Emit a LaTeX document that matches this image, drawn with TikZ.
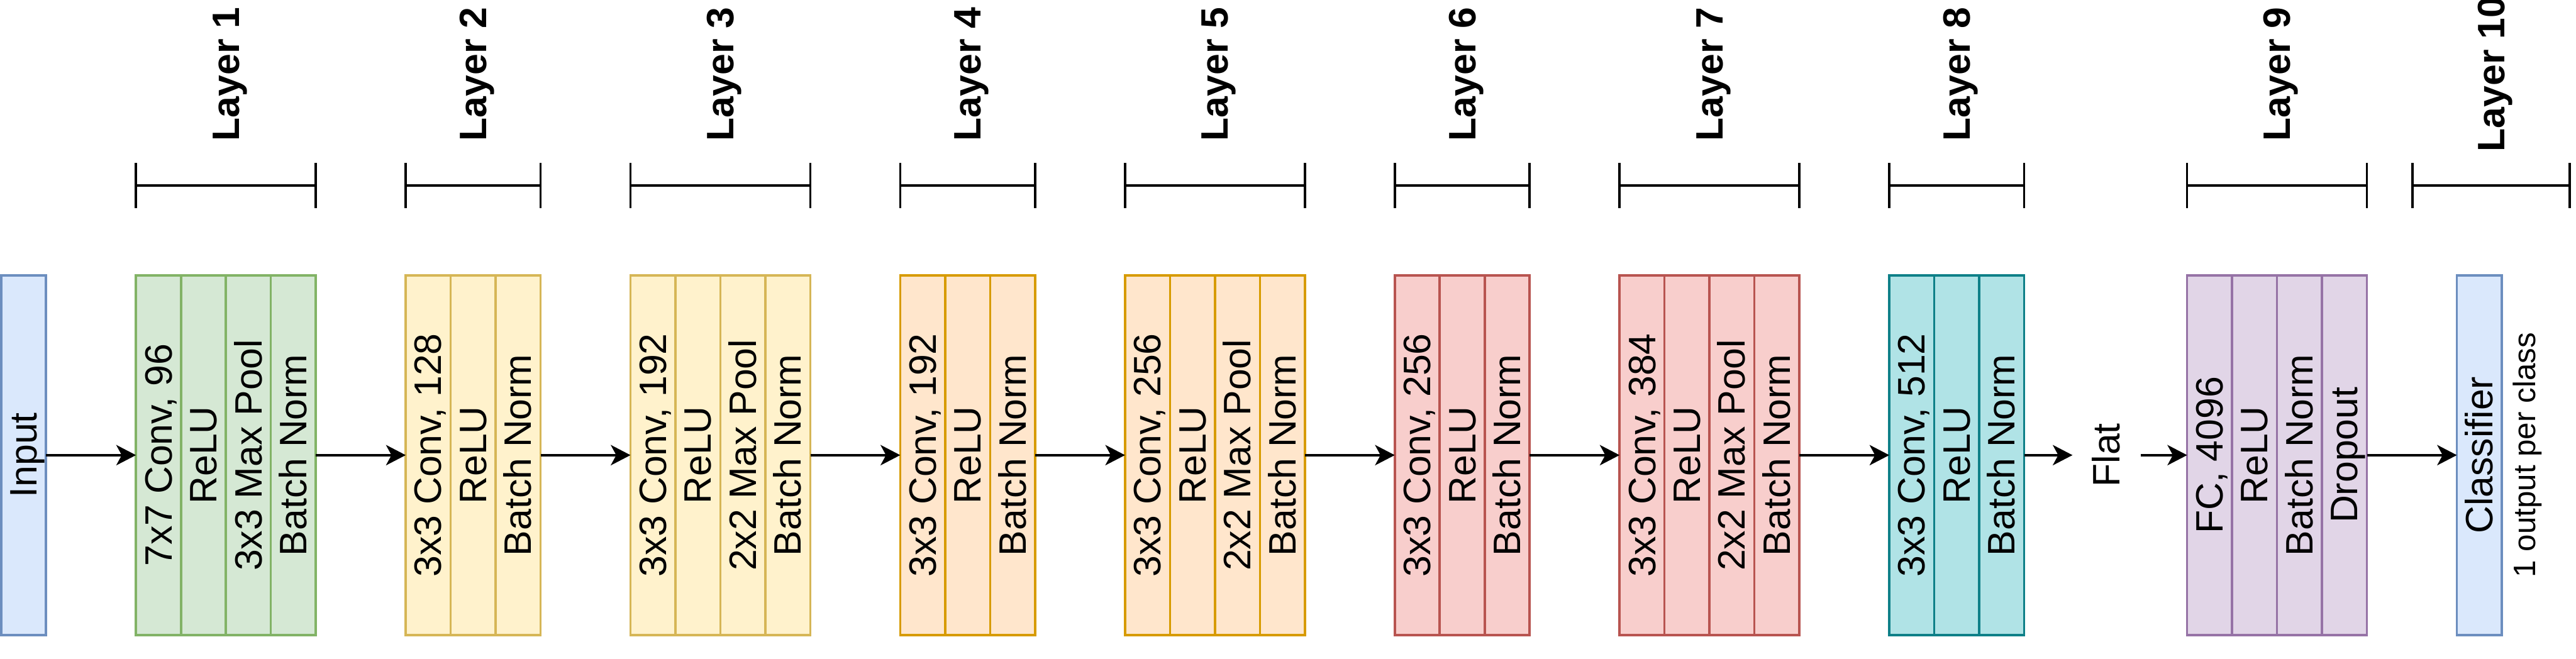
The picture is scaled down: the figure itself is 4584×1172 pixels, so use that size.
\documentclass[tikz,border=0pt]{standalone}
\usepackage{fontspec}
\setmainfont{Liberation Sans}
\usetikzlibrary{arrows.meta}
\definecolor{inF}{HTML}{DAE8FC}\definecolor{inS}{HTML}{6C8EBF}
\definecolor{gF}{HTML}{D5E8D4}\definecolor{gS}{HTML}{82B366}
\definecolor{yF}{HTML}{FFF2CC}\definecolor{yS}{HTML}{D6B656}
\definecolor{oF}{HTML}{FFE6CC}\definecolor{oS}{HTML}{D79B00}
\definecolor{rF}{HTML}{F8CECC}\definecolor{rS}{HTML}{B85450}
\definecolor{tF}{HTML}{B0E3E6}\definecolor{tS}{HTML}{0E8088}
\definecolor{pF}{HTML}{E1D5E7}\definecolor{pS}{HTML}{9673A6}
\begin{document}
\begin{tikzpicture}[x=0.25pt,y=-0.25pt,
  col/.style 2 args={draw=#2, fill=#1, line width=1pt, minimum width=20pt,
    minimum height=160pt, inner sep=0pt, outer sep=0pt},
  txt/.style={rotate=90, inner sep=0pt, outer sep=0pt,
    font=\fontsize{17pt}{20.4pt}\selectfont, text height=16.09pt, text depth=4.31pt},
  smalltxt/.style={rotate=90, inner sep=0pt,
    font=\fontsize{13.8pt}{16.6pt}\selectfont, text height=13.06pt, text depth=3.50pt},
  lay/.style={rotate=90, inner sep=0pt,
    font=\fontsize{17pt}{20.4pt}\selectfont\bfseries, text height=16.09pt, text depth=4.31pt},
  brk/.style={line width=1pt},
  arr/.style={line width=1.15pt, -{Stealth[length=8.75pt, width=9pt, inset=2.4pt]}}
]
\useasboundingbox (0,0) rectangle (4584,1172);

% Input
\node[col={inF}{inS}] (In) at (42,810) {};
\node[txt] (InT) at (In) {Input};

% Layer 1
\node[col={gF}{gS}] (L1a) at (282,810) {};
\node[col={gF}{gS}] (L1b) at (362,810) {};
\node[col={gF}{gS}] (L1c) at (442,810) {};
\node[col={gF}{gS}] (L1d) at (522,810) {};
\node[txt] (L1aT) at (L1a) {7x7 Conv, 96};
\node[txt] (L1bT) at (L1b) {ReLU};
\node[txt] (L1cT) at (L1c) {3x3 Max Pool};
\node[txt] (L1dT) at (L1d) {Batch Norm};

% Layer 2
\node[col={yF}{yS}] (L2a) at (762,810) {};
\node[col={yF}{yS}] (L2b) at (842,810) {};
\node[col={yF}{yS}] (L2c) at (922,810) {};
\node[txt] (L2aT) at (L2a) {3x3 Conv, 128};
\node[txt] (L2bT) at (L2b) {ReLU};
\node[txt] (L2cT) at (L2c) {Batch Norm};

% Layer 3
\node[col={yF}{yS}] (L3a) at (1162,810) {};
\node[col={yF}{yS}] (L3b) at (1242,810) {};
\node[col={yF}{yS}] (L3c) at (1322,810) {};
\node[col={yF}{yS}] (L3d) at (1402,810) {};
\node[txt] (L3aT) at (L3a) {3x3 Conv, 192};
\node[txt] (L3bT) at (L3b) {ReLU};
\node[txt] (L3cT) at (L3c) {2x2 Max Pool};
\node[txt] (L3dT) at (L3d) {Batch Norm};

% Layer 4
\node[col={oF}{oS}] (L4a) at (1642,810) {};
\node[col={oF}{oS}] (L4b) at (1722,810) {};
\node[col={oF}{oS}] (L4c) at (1802,810) {};
\node[txt] (L4aT) at (L4a) {3x3 Conv, 192};
\node[txt] (L4bT) at (L4b) {ReLU};
\node[txt] (L4cT) at (L4c) {Batch Norm};

% Layer 5
\node[col={oF}{oS}] (L5a) at (2042,810) {};
\node[col={oF}{oS}] (L5b) at (2122,810) {};
\node[col={oF}{oS}] (L5c) at (2202,810) {};
\node[col={oF}{oS}] (L5d) at (2282,810) {};
\node[txt] (L5aT) at (L5a) {3x3 Conv, 256};
\node[txt] (L5bT) at (L5b) {ReLU};
\node[txt] (L5cT) at (L5c) {2x2 Max Pool};
\node[txt] (L5dT) at (L5d) {Batch Norm};

% Layer 6
\node[col={rF}{rS}] (L6a) at (2522,810) {};
\node[col={rF}{rS}] (L6b) at (2602,810) {};
\node[col={rF}{rS}] (L6c) at (2682,810) {};
\node[txt] (L6aT) at (L6a) {3x3 Conv, 256};
\node[txt] (L6bT) at (L6b) {ReLU};
\node[txt] (L6cT) at (L6c) {Batch Norm};

% Layer 7
\node[col={rF}{rS}] (L7a) at (2922,810) {};
\node[col={rF}{rS}] (L7b) at (3002,810) {};
\node[col={rF}{rS}] (L7c) at (3082,810) {};
\node[col={rF}{rS}] (L7d) at (3162,810) {};
\node[txt] (L7aT) at (L7a) {3x3 Conv, 384};
\node[txt] (L7bT) at (L7b) {ReLU};
\node[txt] (L7cT) at (L7c) {2x2 Max Pool};
\node[txt] (L7dT) at (L7d) {Batch Norm};

% Layer 8
\node[col={tF}{tS}] (L8a) at (3402,810) {};
\node[col={tF}{tS}] (L8b) at (3482,810) {};
\node[col={tF}{tS}] (L8c) at (3562,810) {};
\node[txt] (L8aT) at (L8a) {3x3 Conv, 512};
\node[txt] (L8bT) at (L8b) {ReLU};
\node[txt] (L8cT) at (L8c) {Batch Norm};

% Flat
\node[txt, minimum height=30.5pt] (flat) at (3749,810) {Flat};

% Layer 9
\node[col={pF}{pS}] (L9a) at (3932,810) {};
\node[col={pF}{pS}] (L9b) at (4012,810) {};
\node[col={pF}{pS}] (L9c) at (4092,810) {};
\node[col={pF}{pS}] (L9d) at (4172,810) {};
\node[txt] (L9aT) at (L9a) {FC, 4096};
\node[txt] (L9bT) at (L9b) {ReLU};
\node[txt] (L9cT) at (L9c) {Batch Norm};
\node[txt] (L9dT) at (L9d) {Dropout};

% Layer 10
\node[col={inF}{inS}] (L10) at (4412,810) {};
\node[txt] (L10T) at (L10) {Classifier};
\node[smalltxt] (L10S) at (4493,810) {1 output per class};

% connectors
\draw[arr] (In) -- (L1a);
\draw[arr] (L1d) -- (L2a);
\draw[arr] (L2c) -- (L3a);
\draw[arr] (L3d) -- (L4a);
\draw[arr] (L4c) -- (L5a);
\draw[arr] (L5d) -- (L6a);
\draw[arr] (L6c) -- (L7a);
\draw[arr] (L7d) -- (L8a);
\draw[arr] (L8c) -- (flat);
\draw[arr] (flat) -- (L9a);
\draw[arr] (L9d) -- (L10);

% brackets and layer labels
\foreach \a/\b/\n in {242/562/1, 722/962/2, 1122/1442/3, 1602/1842/4,
    2002/2322/5, 2482/2722/6, 2882/3202/7, 3362/3602/8, 3892/4212/9, 4293/4573/10}{
  \draw[brk] (\a,290) -- (\a,370) (\a,330) -- (\b,330) (\b,290) -- (\b,370);
  \node[lay] (lab\n) at ({(\a+\b)/2},132) {Layer \n};
}
\end{tikzpicture}
\end{document}
